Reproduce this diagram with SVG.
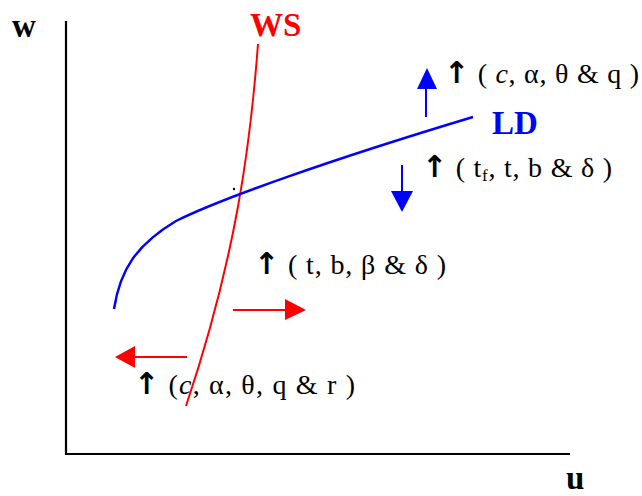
<svg xmlns="http://www.w3.org/2000/svg" width="642" height="496" viewBox="0 0 642 496">
<style>
.lbl{font-family:"Liberation Serif","DejaVu Serif",serif;font-size:28px;fill:#000}
.arr{font-family:"DejaVu Sans",sans-serif;font-size:30px;font-weight:bold}
.ttl{font-family:"Liberation Serif","DejaVu Serif",serif;font-size:33px;font-weight:bold}
.ax{stroke:#000;stroke-width:2.2;fill:none}
.red{stroke:#ff0000;stroke-width:2;fill:none}
.blue{stroke:#0000ff;stroke-width:2.5;fill:none}
</style>
<rect width="642" height="496" fill="#fff"/>
<g id="axes">
<path class="ax" d="M66,21 V454 H570"/>
<text class="ttl" x="12" y="37" fill="#000" font-size="30">w</text>
<text class="ttl" x="566" y="489" fill="#000" font-size="28">u</text>
</g>
<g id="ws">
<path class="red" d="M258,44 C250,150 235,260 186,406"/>
<text class="ttl" x="250" y="36" fill="#ff0000">WS</text>
</g>
<g id="ld">
<path class="blue" d="M114,309 C120,270 136,245 176,221 C220,199 330,160 473,117"/>
<text class="ttl" x="492" y="134" fill="#0000ff">LD</text>
<circle cx="234" cy="189" r="1.2" fill="#000"/>
</g>
<g id="connectors">
<line x1="426" y1="117" x2="426" y2="88" stroke="#0000ff" stroke-width="2"/>
<polygon points="417,89 437,89 427,68" fill="#0000ff"/>
<line x1="402" y1="165" x2="402" y2="193" stroke="#0000ff" stroke-width="2"/>
<polygon points="391,191 413,191 402,212" fill="#0000ff"/>
<line x1="233" y1="310" x2="287" y2="310" stroke="#ff0000" stroke-width="2"/>
<polygon points="285,299 285,320 306,310" fill="#ff0000"/>
<line x1="187" y1="357" x2="133" y2="357" stroke="#ff0000" stroke-width="2"/>
<polygon points="135,346 135,368 115,357" fill="#ff0000"/>
</g>
<g id="label-ld-up">
<text class="lbl" x="444" y="83" textLength="195" lengthAdjust="spacing"><tspan class="arr">↑</tspan> ( <tspan font-style="italic">c</tspan>, α, θ &amp; q )</text>
</g>
<g id="label-ld-down">
<text class="lbl" x="422" y="177" textLength="190" lengthAdjust="spacing"><tspan class="arr">↑</tspan> ( t<tspan font-size="17" dy="4">f</tspan><tspan dy="-4">, t, b &amp; δ )</tspan></text>
</g>
<g id="label-ws-right">
<text class="lbl" x="254" y="274" textLength="192" lengthAdjust="spacing"><tspan class="arr">↑</tspan> ( t, b, β &amp; δ )</text>
</g>
<g id="label-ws-left">
<text class="lbl" x="134" y="394" textLength="221" lengthAdjust="spacing"><tspan class="arr">↑</tspan>  (<tspan font-style="italic">c</tspan>, α, θ, q &amp; r )</text>
</g>
</svg>
